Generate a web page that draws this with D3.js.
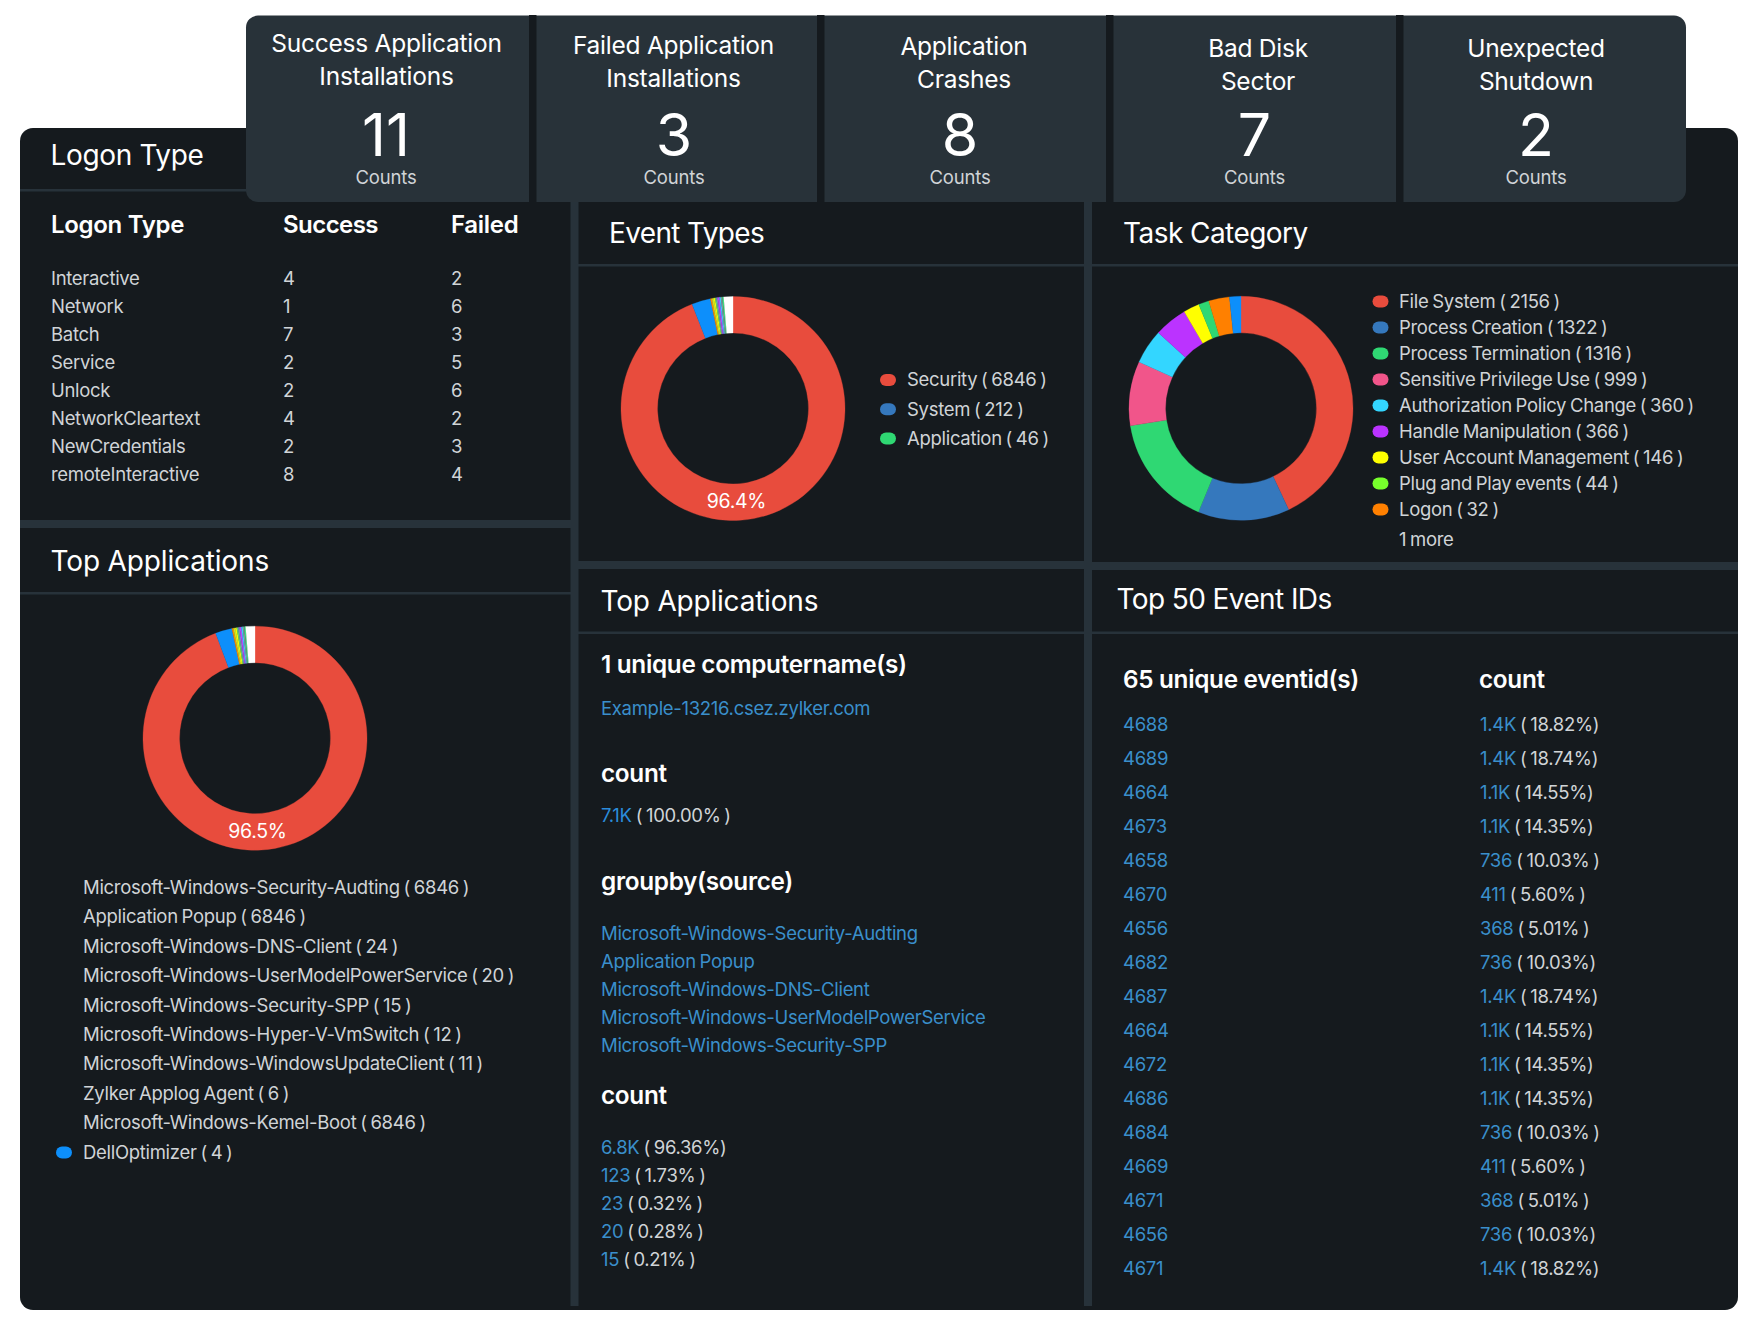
<!DOCTYPE html>
<html>
<head>
<meta charset="utf-8">
<script src="https://cdn.jsdelivr.net/npm/d3@7"></script>
<style>
  html, body { margin: 0; background: #fff; }
  svg { display: block; font-family: Inter, "Noto Sans", sans-serif; }
</style>
</head>
<body>
<svg id="chart" width="1760" height="1336"></svg>
<script>
// data
const cardTitles = [
  ['Success Application', 'Installations'],
  ['Failed Application', 'Installations'],
  ['Application', 'Crashes'],
  ['Bad Disk', 'Sector'],
  ['Unexpected', 'Shutdown']
];
const cardValues = [11, 3, 8, 7, 2];

const logonTypes = ['Interactive', 'Network', 'Batch', 'Service', 'Unlock', 'NetworkCleartext', 'NewCredentials', 'remoteInteractive'];
const logonSuccess = [4, 1, 7, 2, 2, 4, 2, 8];
const logonFailed = [2, 6, 3, 5, 6, 2, 3, 4];

const eventTypeLabels = ['Security ( 6846 )', 'System ( 212 )', 'Application ( 46 )'];
// slice shares (%) as measured on the rings, they do not follow the legend counts
const eventTypeShares = [94.05, 2.72, 0.22, 0.25, 0.2, 0.18, 0.2, 0.25, 0.2, 0.2, 0.2, 1.33];
const topAppShares = [94.1, 2.4, 0.22, 0.25, 0.22, 0.2, 0.22, 0.25, 0.2, 0.2, 0.2, 1.34];
const sourceColors = ['#e84c3d', '#0d8ffb', '#ff8c00', '#c9e52a', '#ffff00', '#62d66e', '#7a8fc0', '#bb44ff', '#33d6ff', '#8a8f9c', '#2fd873', '#ffffff'];

const taskLabels = ['File System ( 2156 )', 'Process Creation ( 1322 )', 'Process Termination ( 1316 )', 'Sensitive Privilege Use ( 999 )', 'Authorization Policy Change ( 360 )', 'Handle Manipulation ( 366 )', 'User Account Management ( 146 )', 'Plug and Play events ( 44 )', 'Logon ( 32 )'];
const taskShares = [43.0, 13.2, 16.3, 9.3, 5.0, 4.75, 2.3, 1.5, 3.0, 1.65];
const taskSliceColors = ['#e84c3d', '#3578bd', '#2fd873', '#f1558a', '#33d6ff', '#bb33ff', '#ffff00', '#2fd873', '#ff8000', '#0d8ffb'];
const taskLegendColors = ['#e84c3d', '#3578bd', '#2fd873', '#f1558a', '#33d6ff', '#bb33ff', '#ffff00', '#77ff2c', '#ff8000'];

const appLegend = ['Microsoft-Windows-Security-Audting ( 6846 )', 'Application Popup ( 6846 )', 'Microsoft-Windows-DNS-Client ( 24 )', 'Microsoft-Windows-UserModelPowerService ( 20 )', 'Microsoft-Windows-Security-SPP ( 15 )', 'Microsoft-Windows-Hyper-V-VmSwitch ( 12 )', 'Microsoft-Windows-WindowsUpdateClient ( 11 )', 'Zylker Applog Agent ( 6 )', 'Microsoft-Windows-Kemel-Boot ( 6846 )', 'DellOptimizer ( 4 )'];

const sources = ['Microsoft-Windows-Security-Audting', 'Application Popup', 'Microsoft-Windows-DNS-Client', 'Microsoft-Windows-UserModelPowerService', 'Microsoft-Windows-Security-SPP'];
const sourceCounts = ['6.8K', '123', '23', '20', '15'];
const sourceCountShares = ['( 96.36%)', '( 1.73% )', '( 0.32% )', '( 0.28% )', '( 0.21% )'];

const eventIds = ['4688', '4689', '4664', '4673', '4658', '4670', '4656', '4682', '4687', '4664', '4672', '4686', '4684', '4669', '4671', '4656', '4671'];
const eventCounts = ['1.4K', '1.4K', '1.1K', '1.1K', '736', '411', '368', '736', '1.4K', '1.1K', '1.1K', '1.1K', '736', '411', '368', '736', '1.4K'];
const eventCountShares = ['( 18.82%)', '( 18.74%)', '( 14.55%)', '( 14.35%)', '( 10.03% )', '( 5.60% )', '( 5.01% )', '( 10.03%)', '( 18.74%)', '( 14.55%)', '( 14.35%)', '( 14.35%)', '( 10.03% )', '( 5.60% )', '( 5.01% )', '( 10.03%)', '( 18.82%)'];

// colours
const panelBg = '#151a1e';
const cardBg = '#283239';
const lineColor = '#27323a';
const white = '#ffffff';
const grey = '#d0d4d7';
const link = '#3a8fcb';
const linkStrong = '#2a8cdb';

const svg = d3.select('#chart');

function text(x, y, str, size, fill, opts = {}) {
  return svg.append('text')
    .attr('x', x)
    .attr('y', y)
    .attr('font-size', size)
    .attr('fill', fill)
    .attr('font-weight', opts.weight || 400)
    .attr('letter-spacing', opts.spacing === undefined ? -0.3 : opts.spacing)
    .attr('word-spacing', opts.words === undefined ? -1.1 : opts.words)
    .attr('text-anchor', opts.anchor || 'start')
    .text(str);
}

function title(x, y, str, spacing = -0.5) {
  return text(x, y, str, 28, white, { spacing, words: 0 });
}

function rect(x, y, w, h, fill) {
  return svg.append('rect').attr('x', x).attr('y', y).attr('width', w).attr('height', h).attr('fill', fill);
}

function rows(first, last, n) {
  return d3.scaleLinear().domain([0, n - 1]).range([first, last]);
}

function donut(cx, cy, shares, colors) {
  const pie = d3.pie().sort(null).value(d => d);
  const arc = d3.arc().innerRadius(75.5).outerRadius(112);
  svg.append('g')
    .attr('transform', `translate(${cx},${cy})`)
    .selectAll('path')
    .data(pie(shares))
    .join('path')
    .attr('d', arc)
    .attr('fill', (d, i) => colors[i])
    .attr('stroke', (d, i) => colors[i])
    .attr('stroke-width', 0.3); // hides the dark seams between the thin slices
}

function legendDot(x, y, color) {
  rect(x, y - 6, 16, 12, color).attr('rx', 6);
}

// panel + dividers
rect(20, 128, 1718, 1182, panelBg).attr('rx', 13);
rect(570.5, 190, 8, 1116, lineColor);
rect(1084, 190, 8, 1116, lineColor);
rect(20, 520, 551, 8, lineColor);
rect(578, 561, 506, 8, lineColor);
rect(1092, 562, 646, 8, lineColor);
rect(20, 189, 551, 2.5, lineColor);
rect(20, 592, 551, 2.5, lineColor);
rect(578, 264, 506, 2.5, lineColor);
rect(1092, 264, 646, 2.5, lineColor);
rect(578, 631.5, 506, 2.5, lineColor);
rect(1092, 631.5, 646, 2.5, lineColor);

// summary cards
svg.append('path')
  .attr('fill', cardBg)
  .attr('d', 'M258,15.5H1674a12,12 0 0 1 12,12V190a12,12 0 0 1 -12,12H258a12,12 0 0 1 -12,-12V27.5a12,12 0 0 1 12,-12Z');
[529, 817, 1106, 1396].forEach(x => rect(x, 15, 7.5, 187, panelBg));

const cardCenters = [386.5, 673.5, 964, 1258, 1536];
const valueCenters = [386, 674, 960, 1254.5, 1536];
const cardTitleY = [52, 53.5, 54.5, 56.5, 56.5];
cardTitles.forEach((lines, i) => {
  lines.forEach((line, j) => {
    text(cardCenters[i], cardTitleY[i] + j * 33.3, line, 24.5, white, { anchor: 'middle', spacing: -0.25, words: 0 });
  });
  text(valueCenters[i], 156, cardValues[i], 59, white, { anchor: 'middle', spacing: 0 });
  text(valueCenters[i], 184, 'Counts', 18.5, grey, { anchor: 'middle', spacing: -0.15 });
});

// logon table
title(50.5, 165, 'Logon Type', -0.35);
text(51, 233, 'Logon Type', 24, white, { weight: 600, words: 0 });
text(283, 233, 'Success', 24, white, { weight: 600, spacing: -0.55 });
text(451, 233, 'Failed', 24, white, { weight: 600 });
const logonY = rows(285, 481, logonTypes.length);
logonTypes.forEach((name, i) => {
  text(51, logonY(i), name, 18.5, grey);
  text(283, logonY(i), logonSuccess[i], 18.5, grey);
  text(451, logonY(i), logonFailed[i], 18.5, grey);
});

// event types
title(609, 243, 'Event Types', -0.65);
donut(733, 408.5, eventTypeShares, sourceColors);
text(736.5, 507.5, '96.4%', 19.5, white, { anchor: 'middle' });
const eventLegendY = rows(380, 438.5, eventTypeLabels.length);
eventTypeLabels.forEach((name, i) => {
  legendDot(880, eventLegendY(i), taskLegendColors[i]);
  text(907, eventLegendY(i) + 6.3, name, 18.5, grey);
});

// task category
title(1123, 243, 'Task Category', -0.55);
donut(1241, 408.3, taskShares, taskSliceColors);
const taskLegendY = rows(301.5, 509.5, taskLabels.length);
taskLabels.forEach((name, i) => {
  legendDot(1372.5, taskLegendY(i), taskLegendColors[i]);
  text(1399, taskLegendY(i) + 6.3, name, 18.5, grey);
});
text(1399, 546, '1 more', 18.5, grey);

// top applications, donut
title(50.5, 570.5, 'Top Applications', -0.15);
donut(255, 738.2, topAppShares, sourceColors);
text(257.5, 837.5, '96.5%', 19.5, white, { anchor: 'middle' });
const appLegendY = rows(894, 1158.5, appLegend.length);
appLegend.forEach((name, i) => text(83, appLegendY(i), name, 18.5, grey));
legendDot(56, appLegendY(9) - 6, '#0d8ffb');

// top applications, lists
title(600.5, 611, 'Top Applications', -0.2);
text(601, 672.5, '1 unique computername(s)', 24.3, white, { weight: 600, words: 0 });
text(601, 715, 'Example-13216.csez.zylker.com', 18.5, link);
text(601, 782, 'count', 24.3, white, { weight: 600 });
const totalRow = text(601, 822, '', 18.5, grey);
totalRow.append('tspan').attr('fill', linkStrong).text('7.1K');
totalRow.append('tspan').attr('dx', 4).text('( 100.00% )');
text(601, 890, 'groupby(source)', 24.3, white, { weight: 600 });
const sourceY = rows(940, 1052, sources.length);
sources.forEach((name, i) => text(601, sourceY(i), name, 18.5, link));
text(601, 1104, 'count', 24.3, white, { weight: 600 });
const sourceCountY = rows(1153.5, 1265.5, sourceCounts.length);
sourceCounts.forEach((c, i) => {
  const row = text(601, sourceCountY(i), '', 18.5, grey);
  row.append('tspan').attr('fill', link).text(c);
  row.append('tspan').attr('dx', 4).text(sourceCountShares[i]);
});

// top 50 event ids
title(1116.5, 609, 'Top 50 Event IDs', -0.6);
text(1123, 688, '65 unique eventid(s)', 24.3, white, { weight: 600, words: 0 });
text(1479, 688, 'count', 24.3, white, { weight: 600 });
const eventY = rows(730.6, 1274.6, eventIds.length);
eventIds.forEach((id, i) => {
  text(1123, eventY(i), id, 18.5, link);
  const row = text(1480, eventY(i), '', 18.5, grey);
  row.append('tspan').attr('fill', link).text(eventCounts[i]);
  row.append('tspan').attr('dx', 4).text(eventCountShares[i]);
});
</script>
</body>
</html>
